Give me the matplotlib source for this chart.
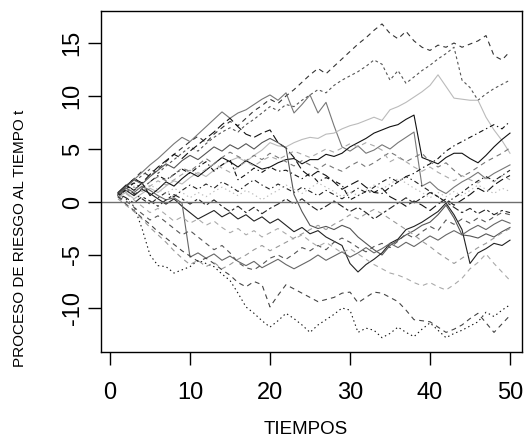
import numpy as np
import matplotlib
matplotlib.use("Agg")
import matplotlib.pyplot as plt

plt.rcParams['font.family'] = ['Liberation Sans', 'DejaVu Sans']
plt.rcParams['axes.unicode_minus'] = False
plt.rcParams['lines.scale_dashes'] = False

# ------------------------- data: simulated risk-process paths -------------------------
tiempos = np.arange(1, 51)

ruta_01 = [0.8, 1.5, 2.2, 2.9, 2.4, 3.1, 3.8, 4.5, 5.1, 5.7,
           6.2, 5.6, 6.4, 7.0, 7.6, 7.2, 7.9, 8.6, 9.1, 9.7,
           9.3, 10.0, 10.6, 11.3, 12.0, 12.6, 12.1, 12.8, 13.5, 14.2,
           14.9, 15.5, 16.2, 16.8, 15.9, 15.4, 16.1, 15.2, 14.6, 14.3,
           14.8, 14.6, 15.0, 14.6, 14.9, 15.2, 15.7, 13.8, 13.4, 14.2]
ruta_02 = [0.6, 1.2, 1.9, 2.5, 3.1, 2.7, 3.4, 4.0, 4.6, 5.2,
           4.8, 5.5, 6.1, 6.6, 7.0, 6.6, 7.3, 7.8, 8.4, 9.0,
           8.6, 9.2, 9.0, 9.6, 10.1, 10.6, 10.3, 11.0, 11.5, 11.9,
           12.3, 12.8, 13.4, 13.0, 11.5, 12.4, 11.2, 11.8, 12.4, 12.9,
           13.5, 14.0, 14.6, 11.5, 10.8, 9.6, 10.2, 10.7, 11.1, 11.5]
ruta_03 = [0.7, 1.4, 2.1, 2.8, 3.5, 4.1, 4.8, 5.5, 6.1, 5.7,
           6.4, 7.1, 7.8, 8.5, 7.9, 8.4, 8.7, 9.2, 9.7, 10.1,
           9.6, 10.3, 8.4, 9.2, 10.1, 8.4, 9.4, 7.2, 5.2, 4.8,
           5.3, 4.6, 4.9, 5.4, 5.0, 5.6, 6.1, 6.6, 1.5, 1.9,
           1.2, 0.8, 1.4, 1.9, 2.3, 2.8, 2.2, 2.7, 3.1, 3.5]
ruta_04 = [0.5, 0.9, 0.3, 0.8, 1.3, 0.9, 1.5, 2.0, 1.7, 2.3,
           2.8, 2.4, 3.0, 3.5, 3.9, 4.2, 3.8, 4.4, 4.9, 5.6,
           5.3, 5.2, 5.6, 5.9, 6.1, 6.0, 6.4, 6.5, 6.9, 7.2,
           7.4, 7.7, 8.0, 7.7, 8.7, 9.0, 9.4, 9.9, 10.4, 11.0,
           12.0, 10.9, 9.8, 9.7, 9.6, 9.6, 8.0, 6.8, 5.8, 4.6]
ruta_05 = [0.9, 1.6, 1.1, 1.8, 0.6, 1.2, 1.9, 1.5, 2.2, 2.8,
           2.4, 3.0, 3.6, 4.2, 3.8, 3.3, 3.9, 3.5, 3.1, 3.3,
           3.7, 4.0, 4.1, 3.6, 4.0, 4.0, 4.5, 4.3, 4.6, 5.2,
           5.6, 6.0, 6.5, 6.8, 7.1, 7.3, 7.8, 8.2, 4.2, 3.9,
           3.6, 4.2, 4.6, 4.6, 4.1, 3.7, 4.4, 5.2, 5.9, 6.5]
ruta_06 = [0.6, 1.2, 1.8, 1.3, 1.9, 2.5, 2.1, 2.6, 3.1, 2.7,
           3.3, 3.8, 2.9, 3.5, 4.0, 2.1, 2.6, 3.2, 2.8, 3.3,
           2.9, 3.0, 2.6, 2.2, 2.7, 1.9, 2.3, 2.0, 1.6, 0.2,
           0.6, 1.0, 0.9, 0.8, 1.4, 1.9, 2.4, 2.7, 3.2, 3.6,
           4.1, 4.8, 5.3, 5.7, 6.1, 6.5, 6.9, 7.3, 6.9, 7.6]
ruta_07 = [0.8, 1.5, 2.2, 1.8, 2.6, 3.3, 3.9, 4.5, 4.1, 4.8,
           5.4, 6.0, 6.6, 7.3, 7.9, 7.1, 6.4, 6.1, 6.5, 6.8,
           5.6, 5.1, 4.2, 3.0, 2.4, 2.9, 2.5, 1.9, 1.2, 1.6,
           2.0, 1.4, 0.9, 1.3, 0.5, 0.1, -0.4, 0.1, -0.3, -0.8,
           -0.2, 0.3, -0.3, 0.2, 0.7, 1.3, 0.9, 1.6, 2.1, 2.5]
ruta_08 = [0.5, 1.1, 0.7, 1.3, 1.9, 2.4, 2.0, 2.6, 3.2, 2.9,
           3.5, 4.1, 3.6, 4.2, 4.7, 4.3, 3.9, 4.4, 4.0, 4.6,
           4.2, 3.8, 3.4, 3.9, 3.5, 3.1, 3.6, 3.2, 2.9, 3.4,
           3.8, 3.3, 3.7, 4.2, 4.7, 4.3, 3.8, 4.2, 4.6, 3.8,
           3.3, 3.7, 3.0, 2.4, 2.8, 3.3, 3.8, 4.2, 4.6, 5.1]
ruta_09 = [0.4, 0.9, 1.4, 1.0, 1.5, 2.0, 1.6, 2.1, 2.6, 3.0,
           2.6, 3.1, 3.6, 3.2, 2.8, 3.3, 3.8, 3.4, 3.9, 4.3,
           4.0, 4.4, 4.8, 4.5, 4.2, 4.6, 5.0, 4.7, 5.1, 5.5,
           5.2, 5.6, 5.3, 4.9, 3.8, 4.2, 3.8, 3.3, 2.9, 3.3,
           2.8, 2.4, 2.0, 2.5, 2.1, 1.8, 2.3, 1.9, 2.5, 2.1]
ruta_10 = [0.7, 1.3, 0.8, 0.3, -0.2, 0.4, 0.9, 0.5, 1.1, 1.6,
           1.2, 1.7, 1.3, 1.9, 1.5, 1.0, 1.6, 2.1, 1.6, 1.2,
           1.7, 1.3, 0.9, 1.4, 1.0, 0.6, 1.1, 0.7, 0.3, 0.8,
           1.3, 0.9, 1.4, 1.9, 2.3, 1.9, 2.4, 2.0, 1.5, 1.0,
           0.5, -0.1, 0.4, 0.9, 1.5, 2.0, 2.4, 2.0, 2.5, 3.0]
ruta_11 = [0.8, 1.5, 2.1, 1.7, 2.4, 3.0, 3.6, 3.2, 3.9, 4.4,
           4.0, 4.6, 5.2, 4.8, 5.4, 5.0, 5.5, 5.0, 5.6, 6.0,
           5.6, 5.1, 0.7, -0.9, -2.2, -2.5, -2.3, -2.6, -2.2, -2.5,
           -3.3, -3.9, -4.5, -5.0, -4.1, -3.6, -3.1, -2.7, -2.2, -1.9,
           -1.2, -0.3, -1.5, -3.1, -3.2, -3.4, -3.0, -3.3, -2.8, -2.4]
ruta_12 = [0.6, 1.1, 0.6, 1.2, 0.8, 0.3, -0.2, 0.3, -0.4, -1.0,
           -1.6, -1.2, -0.8, -1.4, -1.0, -1.6, -1.2, -1.8, -1.4, -2.0,
           -1.6, -2.2, -2.8, -2.4, -3.0, -2.7, -3.3, -3.7, -4.1, -5.8,
           -6.6, -5.9, -5.4, -4.8, -3.9, -3.5, -2.6, -2.3, -1.9, -1.4,
           -0.9, -0.1, -1.2, -2.6, -5.8, -4.8, -4.4, -3.9, -4.1, -3.6]
ruta_13 = [0.7, 1.3, 0.9, 1.5, 1.1, 0.6, 0.2, 0.4, -0.1, -5.2,
           -4.8, -5.3, -4.9, -5.5, -5.1, -5.6, -6.0, -5.6, -6.2, -5.8,
           -5.4, -5.9, -6.3, -5.9, -5.5, -5.0, -5.5, -5.1, -4.7, -5.2,
           -4.8, -4.3, -4.8, -4.4, -3.9, -4.3, -3.8, -4.2, -3.7, -3.2,
           -3.6, -3.1, -2.7, -3.1, -2.6, -2.2, -2.6, -2.1, -1.7, -2.0]
ruta_14 = [0.4, 0.8, 0.2, -0.4, -1.0, -0.6, -1.2, -1.8, -1.4, -2.0,
           -1.6, -2.2, -1.8, -2.4, -2.9, -2.5, -3.1, -2.7, -3.3, -2.9,
           -2.5, -3.0, -3.5, -3.1, -3.7, -4.2, -3.8, -4.3, -4.8, -4.4,
           -4.9, -5.4, -5.9, -6.3, -6.7, -6.9, -7.2, -7.6, -7.9, -7.6,
           -8.0, -8.3, -7.8, -7.2, -6.3, -5.7, -4.9, -5.8, -6.6, -7.4]
ruta_15 = [0.5, 0.1, -0.5, -1.1, -1.7, -1.3, -1.9, -2.5, -3.1, -2.7,
           -3.3, -3.9, -4.5, -4.1, -4.8, -5.7, -6.2, -6.4, -5.9, -5.3,
           -5.0, -5.4, -4.9, -4.3, -4.6, -4.1, -4.5, -3.8, -3.4, -3.8,
           -4.3, -4.7, -4.2, -3.9, -4.3, -3.7, -3.0, -3.4, -2.8, -2.3,
           -2.7, -1.7, -2.1, -1.6, -2.0, -1.5, -1.9, -1.4, -1.0, -1.2]
ruta_16 = [0.7, 0.3, -0.4, -2.5, -5.0, -6.0, -6.1, -6.7, -6.4, -6.1,
           -5.5, -5.8, -6.1, -6.8, -7.4, -8.6, -9.9, -10.5, -11.2, -11.8,
           -11.2, -10.5, -11.0, -11.6, -12.3, -11.6, -11.1, -10.6, -10.0, -10.2,
           -12.3, -11.9, -12.1, -12.8, -12.4, -11.8, -12.3, -12.7, -12.0, -11.4,
           -12.1, -12.8, -12.4, -12.1, -11.7, -11.3, -10.4, -10.8, -10.2, -9.7]
ruta_17 = [0.5, -0.2, -0.8, -1.5, -2.1, -2.8, -3.4, -4.0, -4.6, -5.1,
           -5.6, -5.3, -5.8, -6.4, -6.9, -7.6, -8.0, -7.5, -7.8, -9.9,
           -8.8, -7.8, -8.2, -8.6, -9.0, -9.4, -9.2, -9.0, -8.6, -8.5,
           -9.5, -9.0, -8.5, -8.6, -9.0, -9.4, -10.2, -11.1, -11.2, -11.3,
           -11.8, -12.3, -12.0, -11.6, -11.0, -10.5, -11.4, -12.3, -11.5, -10.7]
ruta_18 = [0.3, -0.3, -0.9, -1.6, -2.4, -3.1, -3.8, -4.6, -5.3, -5.9,
           -5.5, -6.1, -5.7, -6.3, -5.9, -5.4, -5.0, -4.5, -4.1, -4.6,
           -4.2, -3.8, -3.4, -3.0, -2.6, -2.2, -2.6, -2.1, -1.7, -1.2,
           -1.6, -1.1, -0.7, -1.1, -1.6, -2.1, -2.6, -3.1, -3.7, -4.2,
           -4.8, -5.3, -5.8, -5.3, -4.8, -4.3, -3.9, -3.4, -2.9, -2.5]
ruta_19 = [0.6, 1.0, 1.5, 1.1, 1.6, 1.2, 0.8, 1.3, 0.9, 0.4,
           0.9, 0.5, 1.0, 1.4, 1.0, 0.6, 1.1, 0.7, 0.2, 0.7,
           1.1, 1.6, 1.2, 0.8, 1.3, 1.8, 1.4, 1.0, 0.5, 1.0,
           0.6, 1.1, 1.6, 1.2, 1.7, 2.2, 1.8, 1.3, 0.9, 0.4,
           0.9, 0.5, 1.0, 0.6, 1.1, 1.6, 1.2, 0.8, 1.3, 1.0]
ruta_20 = [0.8, 0.4, -0.1, 0.5, 0.1, -0.4, 0.2, 0.7, 0.3, -0.2,
           0.3, -0.3, 0.2, -0.4, -0.9, -0.4, -1.0, -0.5, -1.1, -0.6,
           -0.2, 0.3, -0.2, 0.3, -0.3, -0.8, -0.4, 0.1, -0.4, -0.9,
           -0.5, -1.0, -1.6, -1.1, -0.6, -0.1, 0.4, -0.1, 0.4, 0.9,
           0.5, 0.0, -0.5, -1.0, -0.6, -1.1, -0.7, -1.2, -0.8, -1.0]

rutas = [ruta_01, ruta_02, ruta_03, ruta_04, ruta_05, ruta_06, ruta_07,
         ruta_08, ruta_09, ruta_10, ruta_11, ruta_12, ruta_13, ruta_14,
         ruta_15, ruta_16, ruta_17, ruta_18, ruta_19, ruta_20]

x_ticks = [0, 10, 20, 30, 40, 50]
y_ticks = [-10, -5, 0, 5, 10, 15]

# ------------------------- styles (R-like line types) -------------------------
DASHED = (0, (3.5, 3.0))
DOTTED = (0, (1.0, 2.2))
DOTDASH = (0, (1.0, 2.2, 3.5, 2.2))
LONGDASH = (0, (6.0, 2.5))
TWODASH = (0, (2.0, 2.0, 5.0, 2.0))

estilos = [
    ("#333333", DASHED), ("#555555", (0, (2.0, 2.0))), ("#777777", "-"),
    ("#bbbbbb", "-"), ("#111111", "-"), ("#111111", DOTDASH),
    ("#111111", LONGDASH), ("#777777", DASHED), ("#aaaaaa", DASHED),
    ("#222222", DOTDASH), ("#555555", "-"), ("#222222", "-"),
    ("#666666", "-"), ("#aaaaaa", DASHED), ("#555555", DASHED),
    ("#111111", DOTTED), ("#444444", DASHED), ("#999999", DASHED),
    ("#bbbbbb", DOTTED), ("#222222", TWODASH),
]

fig = plt.figure(figsize=(5.26, 4.41), dpi=100)
ax = fig.add_axes([101 / 526, 89 / 441, 421 / 526, 341 / 441])

for ruta, (col, ls) in zip(rutas, estilos):
    ax.plot(tiempos[:len(ruta)], ruta, color=col, linestyle=ls, linewidth=0.8)

ax.axhline(0, color="#6e6e6e", linewidth=1.0)

ax.set_xlim(-1.125, 51.5)
ax.set_ylim(-14.15, 18.02)
ax.set_xticks(x_ticks)
ax.set_yticks(y_ticks)
ax.set_yticklabels([str(v) for v in y_ticks], rotation=90, va="center")

for sp in ax.spines.values():
    sp.set_linewidth(1.0)
    sp.set_color("black")

ax.tick_params(axis="both", direction="out", length=9.5, width=1.0, labelsize=17)
ax.tick_params(axis="x", pad=12)
ax.tick_params(axis="y", pad=3)

ax.set_xlabel("TIEMPOS", fontsize=13.5)
ax.set_ylabel("PROCESO DE RIESGO AL TIEMPO t", fontsize=11)
ax.xaxis.set_label_coords((306 - 101) / 421, -(430 - 352) / 341)
ax.yaxis.set_label_coords(-(101 - 20) / 421, (352 - 238) / 341)
ax.xaxis.label.set_va("center")
ax.yaxis.label.set_va("center")

fig.savefig("out.png", dpi=100)
